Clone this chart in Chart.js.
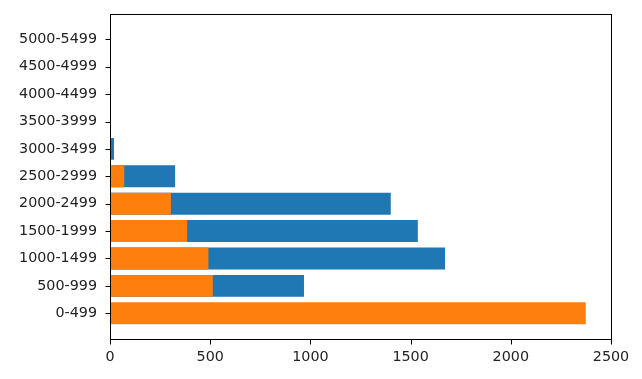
<!DOCTYPE html>
<html>
<head>
<meta charset="utf-8">
<script src="https://cdn.jsdelivr.net/npm/chart.js@4/dist/chart.umd.min.js"></script>
<style>
  html, body { margin: 0; padding: 0; background: #fff; }
  #wrap { width: 642px; height: 379px; }
</style>
</head>
<body>
<div id="wrap"><canvas id="chart"></canvas></div>
<script>
// Categories, bottom to top
const ranges = ['0-499', '500-999', '1000-1499', '1500-1999', '2000-2499', '2500-2999',
  '3000-3499', '3500-3999', '4000-4499', '4500-4999', '5000-5499'];
// Blue series (0-499 is hidden behind the orange bar)
const blueValues = [0, 968, 1672, 1536, 1401, 325, 20, 0, 0, 0, 0];
// Orange series, drawn over the blue one
const orangeValues = [2374, 513, 491, 385, 304, 71, 0, 0, 0, 0, 0];
const xTicks = [0, 500, 1000, 1500, 2000, 2500];

const toPoints = vals => vals.map((v, i) => ({ x: v, y: i }));

// Box around the plot area plus outward tick marks, matplotlib style
const frame = {
  id: 'frame',
  afterDraw(chart) {
    const a = chart.chartArea;
    const ctx = chart.ctx;
    const L = Math.round(a.left) + 0.5, T = Math.round(a.top) + 0.5;
    const R = Math.round(a.right) + 0.5, B = Math.round(a.bottom) + 0.5;
    ctx.save();
    ctx.strokeStyle = '#000';
    ctx.lineWidth = 1;
    ctx.strokeRect(L, T, R - L, B - T);
    ctx.beginPath();
    chart.scales.y.ticks.forEach(t => {
      const y = Math.round(chart.scales.y.getPixelForValue(t.value)) + 0.5;
      ctx.moveTo(L - 5, y);
      ctx.lineTo(L, y);
    });
    chart.scales.x.ticks.forEach(t => {
      const x = Math.round(chart.scales.x.getPixelForValue(t.value)) + 0.5;
      ctx.moveTo(x, B);
      ctx.lineTo(x, B + 5);
    });
    ctx.stroke();
    ctx.restore();
  }
};

const font = { family: 'DejaVu Sans', size: 14.3 };

new Chart(document.getElementById('chart'), {
  type: 'bar',
  data: {
    datasets: [
      {
        label: 'orange',
        data: toPoints(orangeValues),
        backgroundColor: '#ff7f0e',
        grouped: false,
        barPercentage: 0.8,
        categoryPercentage: 1
      },
      {
        label: 'blue',
        data: toPoints(blueValues),
        backgroundColor: '#1f77b4',
        grouped: false,
        barPercentage: 0.8,
        categoryPercentage: 1
      }
    ]
  },
  options: {
    indexAxis: 'y',
    responsive: true,
    maintainAspectRatio: false,
    animation: false,
    layout: { padding: { top: 12, right: 31, left: 0, bottom: 0 } },
    plugins: { legend: { display: false }, tooltip: { enabled: false } },
    scales: {
      x: {
        type: 'linear',
        min: 0,
        max: 2500,
        afterBuildTicks: s => { s.ticks = xTicks.map(v => ({ value: v })); },
        afterFit: s => { s.height = 40; },
        grid: { display: false },
        border: { display: false },
        ticks: { color: '#222', font: font, padding: 2, maxRotation: 0, callback: v => String(v) }
      },
      y: {
        type: 'linear',
        offset: false,
        min: -0.94,
        max: 10.94,
        afterBuildTicks: s => { s.ticks = ranges.map((r, i) => ({ value: i })); },
        afterFit: s => { s.width = 110; },
        grid: { display: false },
        border: { display: false },
        ticks: { color: '#222', font: font, padding: 5, callback: v => ranges[v] }
      }
    }
  },
  plugins: [frame]
});
</script>
</body>
</html>
